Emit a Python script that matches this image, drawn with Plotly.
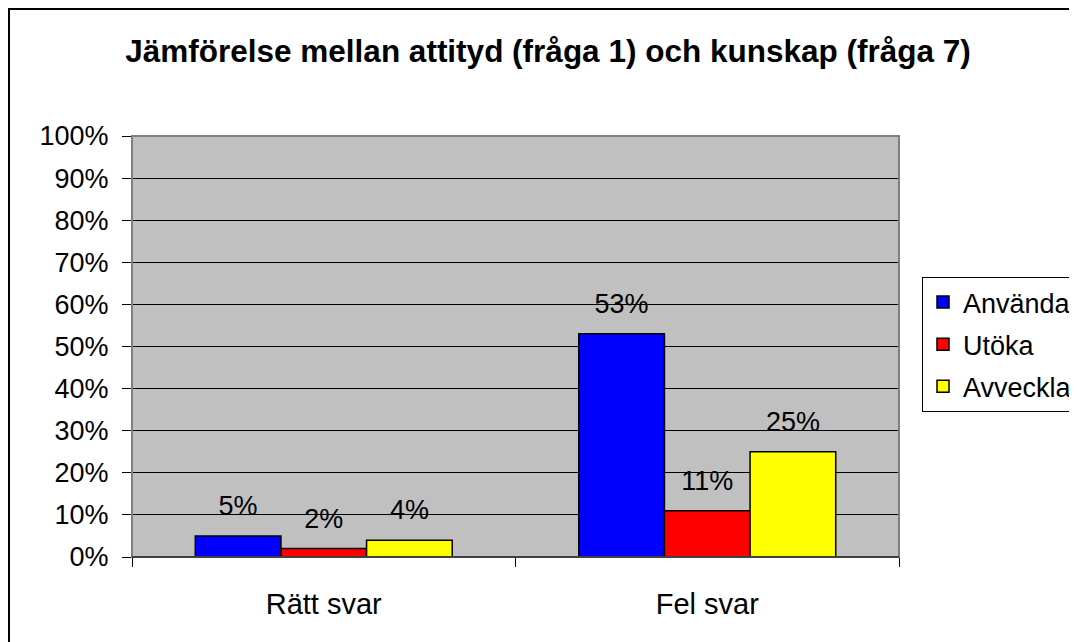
import plotly.graph_objects as go

categories = ["Rätt svar", "Fel svar"]
series_names = ["Använda", "Utöka", "Avveckla"]
anvanda = [5, 53]
utoka = [2, 11]
avveckla = [4, 25]
series_values = [anvanda, utoka, avveckla]
colors = ["#0000FF", "#FF0000", "#FFFF00"]
y_ticks = list(range(0, 101, 10))
y_ticklabels = [f"{v}%" for v in y_ticks]

# page body has an 8px margin; positions below are in figure coordinates
OFF = 8
W, H = 1077, 642
L, R, T, B = 132 - OFF, 899 - OFF, 136 - OFF, 557 - OFF
FONT = "Arial, Liberation Sans, sans-serif"

def px_x(p):
    return (p - OFF - L) / (R - L)

def px_y(p):
    return (B - (p - OFF)) / (B - T)

fig = go.Figure()
for i, (name, vals, col) in enumerate(zip(series_names, series_values, colors)):
    fig.add_trace(go.Bar(
        x=categories, y=vals, name=name, marker_color=col,
        marker_line=dict(color="black", width=1.5),
        offsetgroup=str(i), legendgroup=str(i),
    ))
for i, vals in enumerate(series_values):
    fig.add_trace(go.Scatter(
        x=categories, y=vals, mode="markers+text",
        text=[f"{v}%" for v in vals], textposition="top center",
        textfont=dict(family=FONT, size=27, color="black"),
        marker=dict(size=21, color="rgba(0,0,0,0)"),
        offsetgroup=str(i), showlegend=False, hoverinfo="skip", cliponaxis=False,
    ))

fig.update_layout(
    width=W, height=H,
    margin=dict(l=L, r=W - R, t=T, b=H - B, pad=0, autoexpand=False),
    paper_bgcolor="white", plot_bgcolor="#C0C0C0",
    barmode="group", bargap=0.33, bargroupgap=0,
    scattermode="group", scattergap=0.33,
    font=dict(family=FONT, size=27, color="black"),
    title=dict(
        text="<b>Jämförelse mellan attityd (fråga 1) och kunskap (fråga 7)</b>",
        x=(548 - OFF) / W, xanchor="center", y=1 - (51 - OFF) / H, yanchor="middle",
        font=dict(family=FONT, size=31.5, color="black"),
    ),
    legend=dict(
        x=px_x(922), xanchor="left", y=px_y(277), yanchor="top",
        bordercolor="black", borderwidth=1, bgcolor="white",
        font=dict(family=FONT, size=27, color="black"),
        traceorder="grouped", tracegroupgap=4,
    ),
    showlegend=True,
)
fig.update_yaxes(
    range=[0, 100], tickvals=y_ticks, ticktext=y_ticklabels,
    showgrid=True, gridcolor="black", gridwidth=1,
    showline=True, linecolor="black", linewidth=1,
    ticks="outside", ticklen=9, tickcolor="black",
    tickfont=dict(family=FONT, size=27, color="black"),
    ticklabelstandoff=8, zeroline=False, fixedrange=True,
)
fig.update_xaxes(
    showline=True, linecolor="black", linewidth=1,
    ticks="outside", ticklen=9, tickcolor="black", tickson="boundaries",
    tickfont=dict(family=FONT, size=29, color="black"),
    ticklabelstandoff=21, fixedrange=True,
)
# plot area border (gray) and outer chart frame
fig.add_shape(type="rect", xref="paper", yref="paper", x0=0, x1=1, y0=0, y1=1,
              line=dict(color="#808080", width=2), layer="above")
fig.add_shape(type="line", xref="paper", yref="paper", x0=0, x1=1, y0=0, y1=0,
              line=dict(color="black", width=1), layer="above")
fig.add_shape(type="rect", xref="paper", yref="paper",
              x0=px_x(9), x1=px_x(1300), y0=px_y(800), y1=px_y(9),
              line=dict(color="black", width=2), layer="below")

fig.write_html("out.html")
